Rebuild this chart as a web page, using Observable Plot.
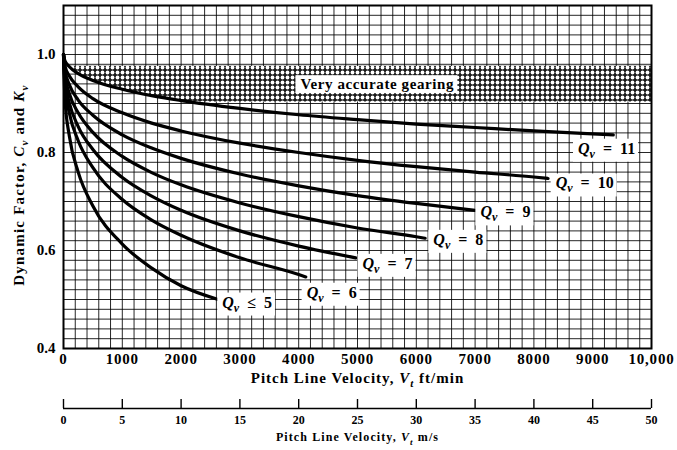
<!DOCTYPE html>
<html><head><meta charset="utf-8">
<script src="https://cdn.jsdelivr.net/npm/d3@7"></script>
<script src="https://cdn.jsdelivr.net/npm/@observablehq/plot@0.6"></script>
<style>
html,body{margin:0;padding:0;background:#fff;}
#chart svg{display:block;}
</style></head><body><div id="chart"></div>
<script>
// ---- data ----
const q11V = [0,25,100,250,500,1000,1500,2000,3000,4000,5000,6000,7000,8000,9000,9350];
const q11K = [1.000,0.987,0.975,0.961,0.947,0.929,0.916,0.906,0.890,0.877,0.867,0.858,0.851,0.844,0.838,0.836];
const q10V = [0,25,100,250,500,1000,1500,2000,3000,4000,5000,6000,7000,8000,8240];
const q10K = [1.000,0.977,0.956,0.934,0.910,0.881,0.860,0.844,0.819,0.800,0.784,0.771,0.760,0.750,0.747];
const q9V = [0,25,100,250,500,1000,1500,2000,3000,4000,5000,6000,7000];
const q9K = [1.000,0.968,0.938,0.907,0.876,0.836,0.809,0.788,0.756,0.732,0.712,0.696,0.682];
const q8V = [0,25,100,250,500,1000,1500,2000,3000,4000,5000,6000,6150];
const q8K = [1.000,0.958,0.920,0.881,0.841,0.792,0.759,0.734,0.697,0.669,0.646,0.628,0.625];
const q7V = [0,25,100,250,500,1000,1500,2000,3000,4000,4970];
const q7K = [1.000,0.947,0.901,0.853,0.806,0.749,0.711,0.682,0.640,0.609,0.585];
const q6V = [0,25,100,250,500,1000,1500,2000,3000,4000,4120];
const q6K = [1.000,0.936,0.880,0.824,0.769,0.704,0.662,0.631,0.585,0.551,0.546];
const q5V = [0,25,100,250,500,1000,1500,2000,2630];
const q5K = [1.000,0.909,0.833,0.760,0.691,0.613,0.564,0.528,0.500];

const bandV  = [80,100,250,500,1000,1500,2100,10000];
const bandLo = [0.976,0.975,0.961,0.947,0.929,0.916,0.903,0.903];
const bandHi = 0.976;
const bandLabel = "Very accurate gearing";
const bandLabelV = 4030, bandLabelK = 0.939;

const qLabelText = ["Qv  =  11","Qv  =  10","Qv  =  9","Qv  =  8","Qv  =  7","Qv  =  6","Qv  \u2264  5"];
const qLabelV = [8750,8370,7090,6290,5085,4135,2700];
const qLabelK = [0.808,0.737,0.678,0.622,0.573,0.514,0.494];

const xTicks = [0,1000,2000,3000,4000,5000,6000,7000,8000,9000,10000];
const xTickLabels = ["0","1000","2000","3000","4000","5000","6000","7000","8000","9000","10,000"];
const yTicks = [0.4,0.6,0.8,1.0];
const yTickLabels = ["0.4","0.6","0.8","1.0"];
const gridV = [0,200,400,600,800,1000,1200,1400,1600,1800,2000,2200,2400,2600,2800,3000,3200,3400,3600,3800,4000,4200,4400,4600,4800,5000,5200,5400,5600,5800,6000,6200,6400,6600,6800,7000,7200,7400,7600,7800,8000,8200,8400,8600,8800,9000,9200,9400,9600,9800,10000];
const gridK = [0.40,0.42,0.44,0.46,0.48,0.50,0.52,0.54,0.56,0.58,0.60,0.62,0.64,0.66,0.68,0.70,0.72,0.74,0.76,0.78,0.80,0.82,0.84,0.86,0.88,0.90,0.92,0.94,0.96,0.98,1.00,1.02,1.04,1.06,1.08,1.10];
const msTicks = [0,5,10,15,20,25,30,35,40,45,50];
const msTickLabels = ["0","5","10","15","20","25","30","35","40","45","50"];
const xTitle = "Pitch Line Velocity, Vt ft/min";
const msTitle = "Pitch Line Velocity, Vt m/s";

// ---- build tables ----
const series = [["11",q11V,q11K],["10",q10V,q10K],["9",q9V,q9K],["8",q8V,q8K],["7",q7V,q7K],["6",q6V,q6K],["5",q5V,q5K]];
const curveData = series.flatMap(([q,vs,ks]) => vs.map((v,i)=>({q, v, k:ks[i]})));
const bandData = bandV.map((v,i)=>({v, lo:bandLo[i], hi:bandHi}));
const labelData = qLabelText.map((t,i)=>({t, v:qLabelV[i], k:qLabelK[i]}));

const FONT = "'Liberation Serif', 'Times New Roman', serif";
const baseStyle = {fontFamily:FONT, fontWeight:"bold", fontSize:"15px", color:"#000", background:"#fff", overflow:"visible"};

const main = Plot.plot({
  width:677, height:392, marginLeft:63, marginRight:26, marginTop:5, marginBottom:44,
  style: baseStyle,
  x:{domain:[0,10000]}, y:{domain:[0.4,1.1]},
  marks:[
    Plot.ruleX(gridV, {stroke:"#000", strokeWidth:1, strokeOpacity:0.85}),
    Plot.ruleY(gridK, {stroke:"#000", strokeWidth:1, strokeOpacity:0.85}),
    Plot.areaY(bandData, {x:"v", y1:"lo", y2:"hi", fill:"url(#dots)", curve:"monotone-x"}),
    Plot.line(curveData, {x:"v", y:"k", z:"q", stroke:"#000", strokeWidth:3.2, curve:"monotone-x"}),
    Plot.frame({stroke:"#000", strokeWidth:2}),
    Plot.axisY({ticks:yTicks, tickSize:0, tickPadding:8, tickFormat:d=>yTickLabels[yTicks.indexOf(d)], label:null, fontSize:15}),
    Plot.axisX({ticks:xTicks, tickSize:0, tickPadding:5, tickFormat:d=>xTickLabels[xTicks.indexOf(d)], label:null, fontSize:15}),
    Plot.text(labelData, {x:"v", y:"k", text:"t", textAnchor:"start", fontSize:16}),
    Plot.text([bandLabel], {x:()=>bandLabelV, y:()=>bandLabelK, text:d=>d, textAnchor:"start", fontSize:15}),
    Plot.text([xTitle], {frameAnchor:"bottom", dy:34, text:d=>d, fontSize:15})
  ]
});

const ms = Plot.plot({
  width:677, height:58, marginLeft:63, marginRight:26, marginTop:7, marginBottom:42,
  style: baseStyle,
  x:{domain:[0,50], axis:null}, y:{domain:[0,1], axis:null},
  marks:[
    Plot.ruleY([0], {stroke:"#000", strokeWidth:1.4}),
    Plot.ruleX(msTicks, {y1:0, y2:1, stroke:"#000", strokeWidth:1.4}),
    Plot.text(msTicks, {x:d=>d, y:0, dy:12, text:(d,i)=>msTickLabels[i], fontSize:12}),
    Plot.text([msTitle], {frameAnchor:"bottom", dy:32, text:d=>d, fontSize:12})
  ]
});

const host = document.getElementById("chart");
host.appendChild(main);
host.appendChild(ms);

// pattern for the accurate-gearing band
const defs = d3.select(main).insert("defs", ":first-child");
const P = 5;
const pat = defs.append("pattern").attr("id","dots").attr("patternUnits","userSpaceOnUse").attr("width",P).attr("height",P);
pat.append("rect").attr("width",P).attr("height",P).attr("fill","#1a1a1a");
pat.append("circle").attr("cx",P/2).attr("cy",P/2).attr("r",1.9).attr("fill","#fff");

// rich text with italic letters and subscripts
function rich(node, parts, subSize){
  const sel = d3.select(node);
  sel.text("").style("white-space","pre");
  let sub = false;
  for (const p of parts){
    const ts = sel.append("tspan").text(p.t);
    if (p.i) ts.attr("font-style","italic");
    if (p.s){ ts.attr("font-size", subSize); if(!sub){ ts.attr("dy", 4); sub = true; } }
    else if (sub){ ts.attr("dy", -4); sub = false; }
  }
}
const allMain = d3.select(main).selectAll("text");
const qNodes = allMain.filter(function(){ return qLabelText.includes(this.textContent); });
const bNodes = allMain.filter(function(){ return this.textContent === bandLabel; });
qNodes.each(function(){
  const s = this.textContent;
  rich(this, [{t:"Q",i:1},{t:"v",i:1,s:1},{t:s.slice(2)}], "12px");
});
bNodes.style("letter-spacing","0.6px");
allMain.filter(function(){ return this.textContent === xTitle; }).each(function(){
  d3.select(this).style("letter-spacing","1px");
  rich(this, [{t:"Pitch Line Velocity, "},{t:"V",i:1},{t:"t",i:1,s:1},{t:" ft/min"}], "11px");
});
d3.select(ms).selectAll("text").filter(function(){ return this.textContent === msTitle; }).each(function(){
  d3.select(this).style("letter-spacing","1.1px");
  rich(this, [{t:"Pitch Line Velocity, "},{t:"V",i:1},{t:"t",i:1,s:1},{t:" m/s"}], "9px");
});
// slightly wider tick labels like the reference
allMain.filter(function(){ return xTickLabels.includes(this.textContent); }).style("letter-spacing","0.8px");
// white boxes behind labels
function box(node){
  const bb = node.getBBox();
  d3.select(node.parentNode).insert("rect", () => node)
    .attr("transform", node.getAttribute("transform"))
    .attr("x", bb.x-5).attr("y", bb.y-1).attr("width", bb.width+8).attr("height", bb.height+2)
    .attr("fill","#fff").attr("stroke","none");
}
qNodes.each(function(){ box(this); });
bNodes.each(function(){ box(this); });
// y axis title (rotated)
const yt = d3.select(main).append("text")
  .attr("transform","translate(19,185) rotate(-90)")
  .attr("text-anchor","middle").attr("dy","0.35em")
  .attr("font-size",15).attr("font-weight","bold").attr("fill","#000")
  .style("letter-spacing","1.2px");
rich(yt.node(), [{t:"Dynamic Factor, "},{t:"C",i:1},{t:"v",i:1,s:1},{t:" and "},{t:"K",i:1},{t:"v",i:1,s:1}], "11px");
</script></body></html>
